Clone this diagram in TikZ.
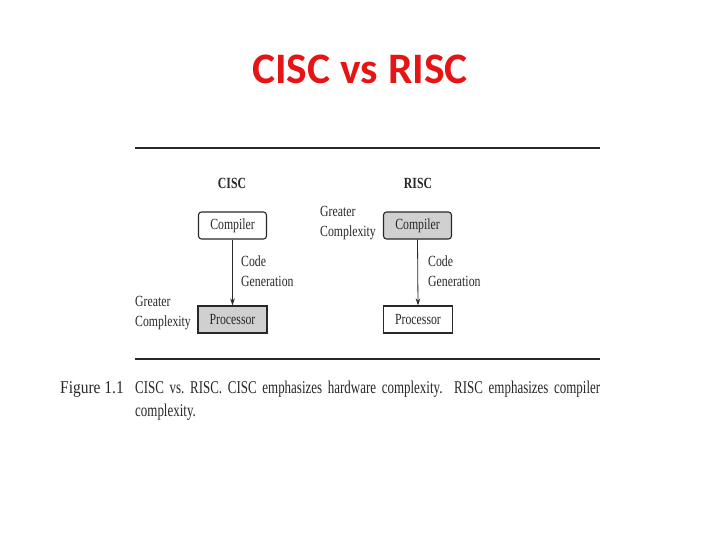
\documentclass[tikz,border=0pt]{standalone}
\usepackage{fontspec}
\usetikzlibrary{arrows.meta}
\newfontfamily\titlefont{Carlito}
\newfontfamily\figfont[FakeStretch=0.76]{Liberation Serif}
\newfontfamily\capfont[FakeStretch=0.72]{Liberation Serif}
\newfontfamily\figlabfont[FakeStretch=0.86]{Liberation Serif}
\definecolor{titlered}{RGB}{230,20,20}
\definecolor{boxgray}{RGB}{208,208,208}
\definecolor{inkgray}{RGB}{40,40,40}
\begin{document}
\begin{tikzpicture}[x=1pt,y=-1pt,
  lbl/.style={font=\figfont\fontsize{15.5}{20}\selectfont, text=inkgray, inner sep=0pt, align=left},
  hdr/.style={font=\figfont\bfseries\fontsize{15.5}{20}\selectfont, text=inkgray, inner sep=0pt},
  compbox/.style={draw=inkgray, line width=1.1pt, rounded corners=3pt, minimum width=68pt, minimum height=27pt, inner sep=0pt, font=\figfont\fontsize{15.5}{20}\selectfont, text=inkgray},
  procbox/.style={draw=inkgray, line width=1.1pt, minimum width=69pt, minimum height=27pt, inner sep=0pt, font=\figfont\fontsize{15.5}{20}\selectfont, text=inkgray},
  flow/.style={draw=inkgray, line width=0.8pt, -{Stealth[length=7pt,width=4.5pt]}},
  rule/.style={draw=inkgray, line width=1.8pt}
]
\useasboundingbox (0,0) rectangle (720,540);
\fill[white] (0,0) rectangle (720,540);

\node[font=\titlefont\bfseries\fontsize{43.5}{50}\selectfont, text=titlered, inner sep=0pt] (title) at (360,69) {CISC vs RISC};

\coordinate (r1a) at (135,148);
\coordinate (r1b) at (600,148);
\coordinate (r2a) at (135,359);
\coordinate (r2b) at (600,359);
\draw[rule] (r1a) -- (r1b);
\draw[rule] (r2a) -- (r2b);

\node[hdr] (cisc) at (232,183) {CISC};
\node[hdr] (risc) at (418,183) {RISC};

\node[compbox, fill=white] (ccomp) at (232.5,225.5) {Compiler};
\node[compbox, fill=boxgray] (rcomp) at (417.5,225.5) {Compiler};
\node[procbox, fill=boxgray] (cproc) at (232.5,319.5) {Processor};
\node[procbox, fill=white] (rproc) at (418,319.5) {Processor};

\draw[flow] (ccomp.south) -- (cproc.north);
\draw[flow] (rcomp.south) -- (rproc.north);

\node[lbl, anchor=north west] (ccode) at (241,256) {Code\\Generation};
\node[lbl, anchor=north west] (rcode) at (428,256) {Code\\Generation};
\node[lbl, anchor=north west] (cgreat) at (135,296) {Greater\\Complexity};
\node[lbl, anchor=north west] (rgreat) at (320,206) {Greater\\Complexity};

\node[font=\figlabfont\fontsize{18}{23}\selectfont, text=inkgray, inner sep=0pt, anchor=base west] (fig) at (60,393) {Figure 1.1};
\node[font=\capfont\fontsize{18}{23}\selectfont, text=inkgray, inner sep=0pt, anchor=north west, text width=465pt, align=justify] (cap) at (135,381) {\hyphenpenalty=10000 CISC vs.\ RISC. CISC emphasizes hardware complexity. RISC emphasizes compiler\linebreak complexity.};
\end{tikzpicture}
\end{document}
